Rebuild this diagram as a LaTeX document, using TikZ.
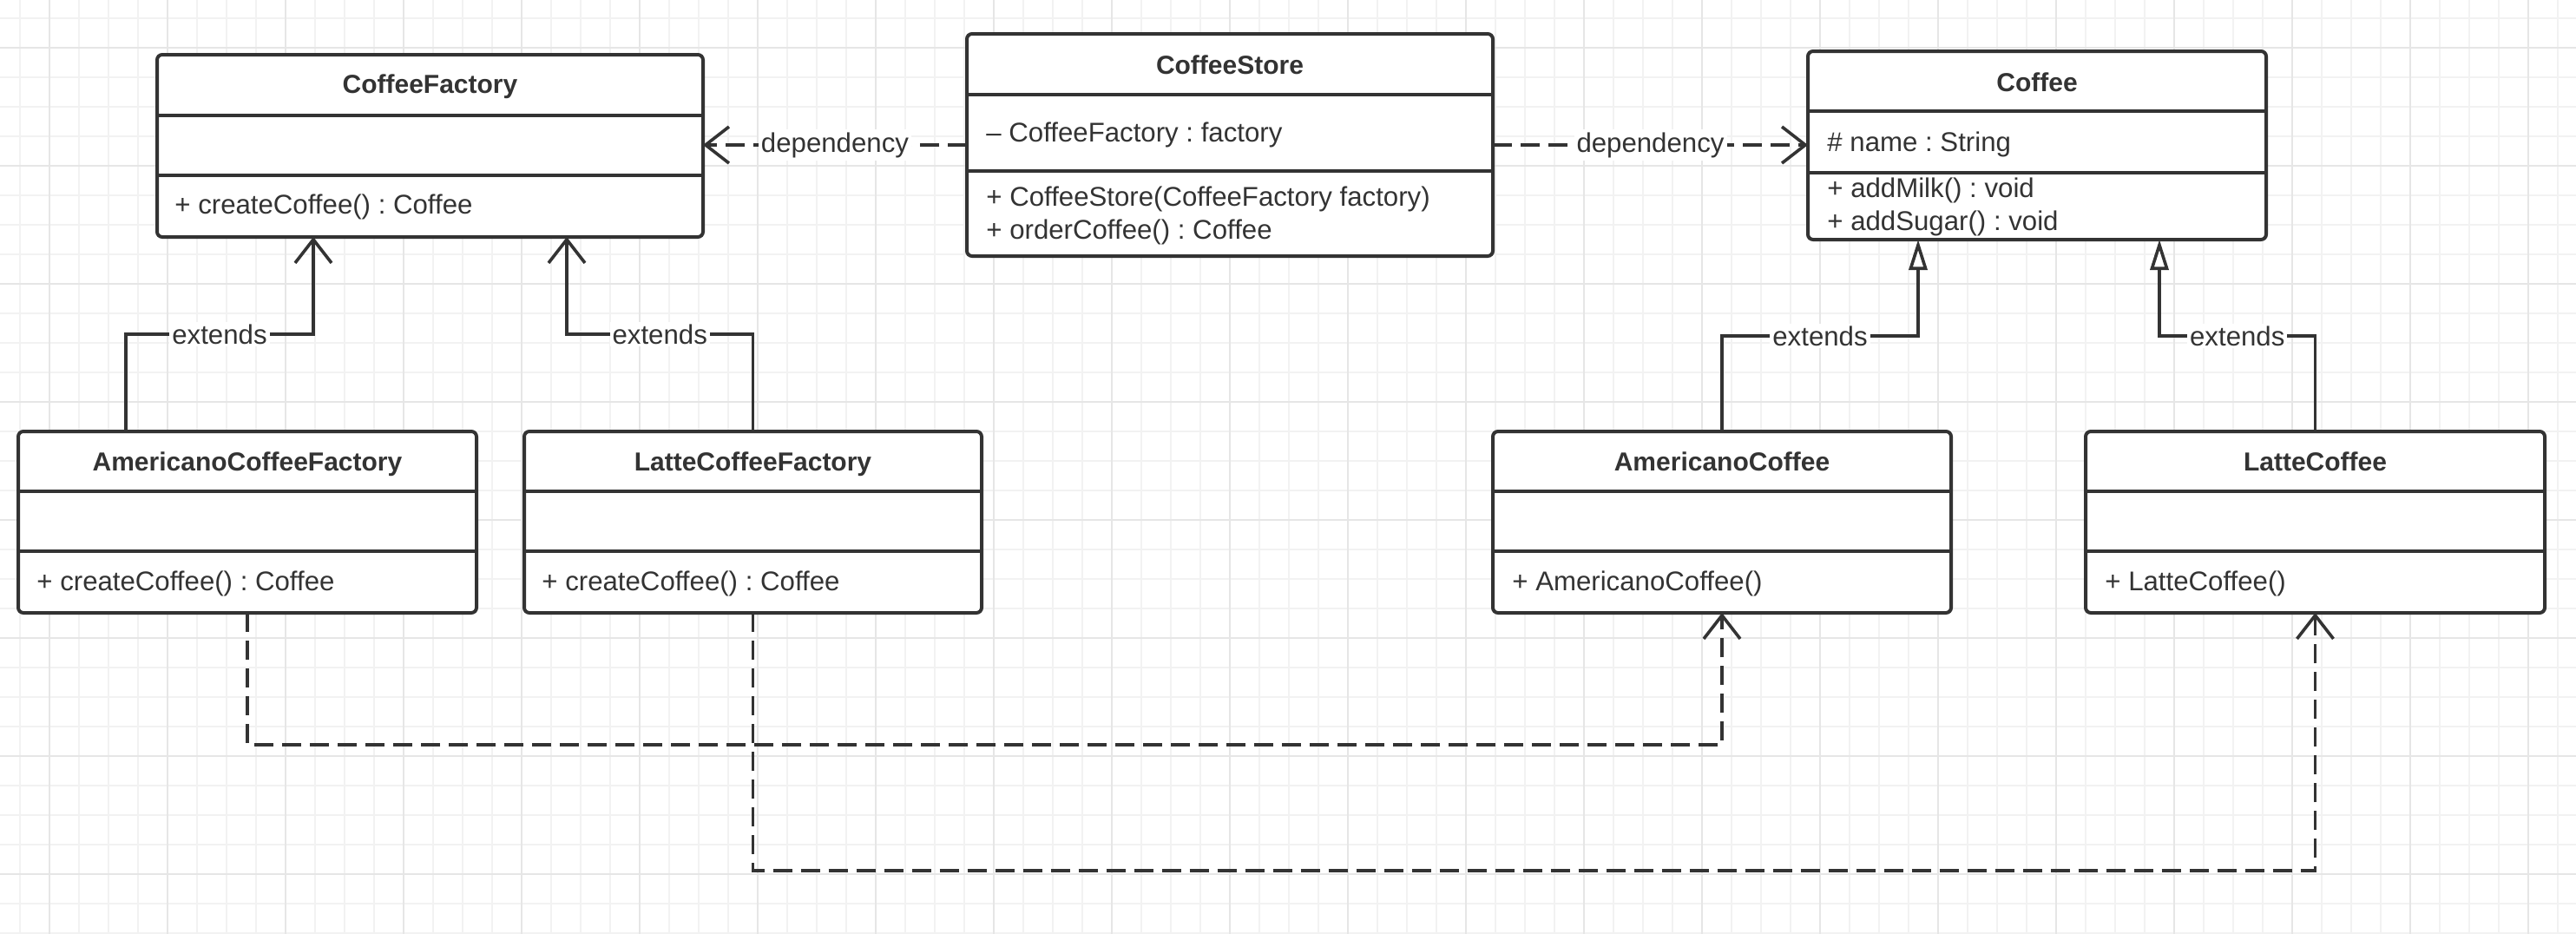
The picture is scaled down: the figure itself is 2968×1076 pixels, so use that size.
\documentclass[tikz,border=0pt]{standalone}
\usepackage{fontspec}
\setmainfont{Liberation Sans}
\usetikzlibrary{arrows.meta}
\definecolor{ink}{HTML}{333333}
\definecolor{gridminor}{HTML}{F2F2F2}
\definecolor{gridmajor}{HTML}{E6E6E6}
\frenchspacing
\begin{document}
\begin{tikzpicture}[x=0.5pt,y=-0.5pt,
  box/.style={draw=ink, line width=2pt, fill=white, rounded corners=3pt, inner sep=0pt, outer sep=0pt, anchor=north west},
  sep/.style={draw=ink, line width=2pt},
  ttl/.style={font=\fontsize{15}{18}\selectfont\bfseries, text=ink, anchor=base, inner sep=0pt},
  mem/.style={font=\fontsize{15.6}{18}\selectfont, text=ink, anchor=base west, inner sep=0pt},
  lbl/.style={font=\fontsize{15.6}{18}\selectfont, text=ink, fill=white, inner sep=1.5pt},
  conn/.style={draw=ink, line width=1.8pt},
  dep/.style={conn, dash pattern=on 11pt off 5pt},
  openarrow/.style={-{Straight Barb[length=13.5pt,width=21pt,line width=1.8pt]}},
  inh/.style={-{Triangle[length=17.5pt,width=10.5pt,line width=1.8pt,fill=white]}},
]
\useasboundingbox (0,0) rectangle (2968,1076);
\fill[white] (0,0) rectangle (2968,1076);
% grid
\foreach \i in {0,...,86} \draw[gridminor, line width=0.9pt] (22.7+34*\i,0) -- (22.7+34*\i,1076);
\foreach \i in {0,...,31} \draw[gridminor, line width=0.9pt] (0,21+34*\i) -- (2968,21+34*\i);
\foreach \i in {0,...,21} \draw[gridmajor, line width=1.2pt] (56.7+136*\i,0) -- (56.7+136*\i,1076);
\foreach \i in {0,...,7} \draw[gridmajor, line width=1.2pt] (0,55+136*\i) -- (2968,55+136*\i);

% ---------- classes ----------
% CoffeeFactory
\node[box, minimum width=314.5pt, minimum height=105pt] (cf) at (181,63) {};
\draw[sep] ([yshift=-35pt]cf.north west) -- ([yshift=-35pt]cf.north east);
\draw[sep] ([yshift=-69.5pt]cf.north west) -- ([yshift=-69.5pt]cf.north east);
\node[ttl] (cft) at (495.5,107) {CoffeeFactory};
\node[mem] (cfm) at (201,246) {+ createCoffee() : Coffee};

% CoffeeStore
\node[box, minimum width=303pt, minimum height=128pt] (cs) at (1114,39) {};
\draw[sep] ([yshift=-35pt]cs.north west) -- ([yshift=-35pt]cs.north east);
\draw[sep] ([yshift=-79pt]cs.north west) -- ([yshift=-79pt]cs.north east);
\node[ttl] (cst) at (1417,85) {CoffeeStore};
\node[mem] (csa) at (1136,163) {– CoffeeFactory : factory};
\node[mem] (csm1) at (1136,237) {+ CoffeeStore(CoffeeFactory factory)};
\node[mem] (csm2) at (1136,275) {+ orderCoffee() : Coffee};

% Coffee
\node[box, minimum width=264pt, minimum height=108.5pt] (co) at (2083,59) {};
\draw[sep] ([yshift=-34.5pt]co.north west) -- ([yshift=-34.5pt]co.north east);
\draw[sep] ([yshift=-70pt]co.north west) -- ([yshift=-70pt]co.north east);
\node[ttl] (cot) at (2347,105) {Coffee};
\node[mem] (coa) at (2105,174) {\# name : String};
\node[mem] (com1) at (2105,227) {+ addMilk() : void};
\node[mem] (com2) at (2105,265) {+ addSugar() : void};

% AmericanoCoffeeFactory
\node[box, minimum width=264pt, minimum height=104.5pt] (acf) at (21,497) {};
\draw[sep] ([yshift=-34.5pt]acf.north west) -- ([yshift=-34.5pt]acf.north east);
\draw[sep] ([yshift=-69pt]acf.north west) -- ([yshift=-69pt]acf.north east);
\node[ttl] (acft) at (285,542) {AmericanoCoffeeFactory};
\node[mem] (acfm) at (42,680) {+ createCoffee() : Coffee};

% LatteCoffeeFactory
\node[box, minimum width=263.5pt, minimum height=104.5pt] (lcf) at (604,497) {};
\draw[sep] ([yshift=-34.5pt]lcf.north west) -- ([yshift=-34.5pt]lcf.north east);
\draw[sep] ([yshift=-69pt]lcf.north west) -- ([yshift=-69pt]lcf.north east);
\node[ttl] (lcft) at (867.5,542) {LatteCoffeeFactory};
\node[mem] (lcfm) at (624,680) {+ createCoffee() : Coffee};

% AmericanoCoffee
\node[box, minimum width=264pt, minimum height=104.5pt] (ac) at (1720,497) {};
\draw[sep] ([yshift=-34.5pt]ac.north west) -- ([yshift=-34.5pt]ac.north east);
\draw[sep] ([yshift=-69pt]ac.north west) -- ([yshift=-69pt]ac.north east);
\node[ttl] (act) at (1984,542) {AmericanoCoffee};
\node[mem] (acm) at (1742,680) {+ AmericanoCoffee()};

% LatteCoffee
\node[box, minimum width=264.5pt, minimum height=104.5pt] (lc) at (2403,497) {};
\draw[sep] ([yshift=-34.5pt]lc.north west) -- ([yshift=-34.5pt]lc.north east);
\draw[sep] ([yshift=-69pt]lc.north west) -- ([yshift=-69pt]lc.north east);
\node[ttl] (lct) at (2667.5,542) {LatteCoffee};
\node[mem] (lcm) at (2425,680) {+ LatteCoffee()};

% ---------- connectors ----------
\coordinate (e1) at (361,385);
\coordinate (e2) at (653,385);
\coordinate (e3) at (2210,387);
\coordinate (e4) at (2488,387);
\draw[conn, openarrow] ([xshift=-70pt]acf.north) |- node[lbl, pos=0.75] (x1) {extends} (e1) -- (e1 |- cf.south);
\draw[conn, openarrow] (lcf.north) |- node[lbl, pos=0.75] (x2) {extends} (e2) -- (e2 |- cf.south);
\draw[conn, inh] (ac.north) |- node[lbl, pos=0.75] (x3) {extends} (e3) -- (e3 |- co.south);
\draw[conn, inh] (lc.north) |- node[lbl, pos=0.75] (x4) {extends} (e4) -- (e4 |- co.south);

\draw[dep, openarrow] (cs.west) -- node[lbl] (d1) {dependency} (cs.west -| cf.east);
\draw[dep, openarrow] (cs.east) -- node[lbl] (d2) {dependency} (cs.east -| co.west);

\coordinate (b1) at (1984,858);
\coordinate (b2) at (2667.5,1003);
\draw[dep, openarrow] (acf.south) |- (b1) -- (ac.south);
\draw[dep, openarrow] (lcf.south) |- (b2) -- (lc.south);
\end{tikzpicture}
\end{document}
